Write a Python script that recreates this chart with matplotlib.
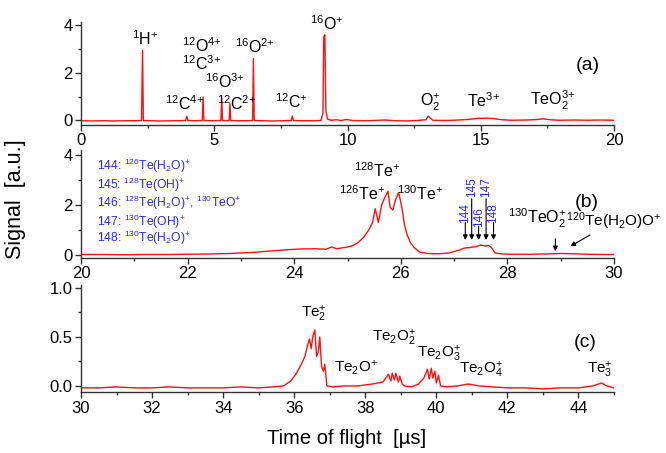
import matplotlib
matplotlib.use('Agg')
import matplotlib.pyplot as plt
from matplotlib.ticker import MultipleLocator, FormatStrFormatter

plt.rcParams['font.family'] = ['Liberation Sans', 'DejaVu Sans']
plt.rcParams['mathtext.fontset'] = 'custom'
plt.rcParams['mathtext.rm'] = 'Liberation Sans'
plt.rcParams['mathtext.it'] = 'Liberation Sans:italic'
plt.rcParams['mathtext.bf'] = 'Liberation Sans:bold'

# spectrum (a): 0-20 us, (time, signal)
spec_a = [(0.0, -0.02), (0.4, -0.03), (0.8, -0.02), (1.2, -0.03), (1.6, -0.02), (2.0, -0.02),
          (2.27, -0.01), (2.31, 2.95), (2.34, -0.01), (2.6, -0.02), (3.0, -0.03), (3.5, -0.02),
          (3.93, -0.01), (3.97, 0.17), (4.01, -0.01), (4.3, -0.02), (4.55, -0.01), (4.58, 0.98),
          (4.61, -0.01), (4.9, -0.02), (5.25, -0.01), (5.28, 0.98), (5.31, -0.01), (5.45, -0.02),
          (5.56, -0.01), (5.59, 0.7), (5.62, -0.01), (5.9, -0.02), (6.2, -0.02), (6.44, -0.01),
          (6.47, 2.6), (6.5, -0.01), (6.8, -0.02), (7.2, -0.03), (7.6, -0.02), (7.89, -0.01),
          (7.93, 0.18), (7.97, -0.01), (8.3, -0.02), (8.7, -0.02), (9.0, -0.01), (9.08, 0.3),
          (9.11, 3.5), (9.15, 3.6), (9.19, 0.4), (9.25, 0.05), (9.4, 0.0), (9.6, 0.02),
          (9.75, -0.01), (9.95, 0.03), (10.2, -0.01), (10.6, -0.02), (11.0, -0.01), (11.4, 0.01),
          (11.8, -0.02), (12.2, -0.03), (12.6, -0.01), (12.95, 0.02), (13.03, 0.18), (13.1, 0.1),
          (13.2, 0.0), (13.6, -0.01), (14.0, 0.0), (14.5, 0.03), (14.9, 0.08), (15.2, 0.09),
          (15.5, 0.07), (15.8, 0.02), (16.2, 0.0), (16.7, 0.01), (17.1, 0.03), (17.35, 0.06),
          (17.6, 0.02), (18.0, 0.0), (18.5, 0.01), (19.0, 0.0), (19.5, 0.01), (20.0, 0.0)]

# spectrum (b): 20-30 us
spec_b = [(20.0, 0.02), (20.4, 0.02), (20.8, 0.01), (21.2, 0.02), (21.6, 0.02), (22.0, 0.03),
          (22.4, 0.04), (22.8, 0.06), (23.2, 0.1), (23.5, 0.15), (23.8, 0.2), (24.1, 0.24),
          (24.4, 0.25), (24.6, 0.23), (24.7, 0.32), (24.8, 0.25), (25.0, 0.32), (25.1, 0.38),
          (25.2, 0.5), (25.3, 0.7), (25.4, 1.0), (25.47, 1.3), (25.52, 1.85), (25.58, 1.3),
          (25.64, 2.0), (25.7, 2.3), (25.76, 2.55), (25.8, 1.9), (25.85, 1.8), (25.9, 2.2),
          (25.96, 2.5), (26.02, 1.9), (26.07, 1.2), (26.12, 0.8), (26.18, 0.5), (26.25, 0.3),
          (26.35, 0.12), (26.5, 0.06), (26.7, 0.05), (26.9, 0.08), (27.1, 0.2), (27.2, 0.28),
          (27.3, 0.3), (27.4, 0.33), (27.5, 0.4), (27.58, 0.36), (27.65, 0.38), (27.7, 0.3),
          (27.77, 0.08), (27.9, 0.04), (28.1, 0.03), (28.4, 0.03), (28.7, 0.04), (29.0, 0.06),
          (29.2, 0.05), (29.5, 0.03), (29.8, 0.02), (30.0, 0.02)]

# spectrum (c): 30-45 us
spec_c = [(30.0, -0.02), (30.5, -0.02), (31.0, -0.01), (31.5, -0.02), (32.0, -0.02), (32.5, -0.01),
          (33.0, -0.02), (33.5, -0.02), (34.0, -0.02), (34.5, -0.01), (35.0, -0.02), (35.4, -0.01),
          (35.7, 0.0), (35.9, 0.05), (36.05, 0.12), (36.2, 0.22), (36.3, 0.3), (36.38, 0.42),
          (36.43, 0.48), (36.48, 0.38), (36.52, 0.5), (36.58, 0.57), (36.63, 0.3), (36.68, 0.35),
          (36.72, 0.5), (36.77, 0.2), (36.82, 0.15), (36.86, 0.22), (36.92, 0.0), (37.1, -0.01),
          (37.4, 0.0), (37.8, 0.0), (38.2, 0.02), (38.5, 0.04), (38.65, 0.12), (38.72, 0.05),
          (38.76, 0.13), (38.82, 0.06), (38.86, 0.13), (38.93, 0.04), (38.97, 0.1), (39.04, 0.02),
          (39.1, 0.0), (39.3, -0.01), (39.5, 0.02), (39.65, 0.08), (39.75, 0.17), (39.8, 0.07),
          (39.86, 0.18), (39.9, 0.08), (39.96, 0.15), (40.0, 0.03), (40.06, 0.11), (40.12, 0.0),
          (40.3, -0.01), (40.6, 0.0), (40.9, 0.02), (41.2, 0.0), (41.6, -0.01), (42.0, -0.02),
          (42.5, -0.02), (43.0, -0.03), (43.5, -0.02), (44.0, -0.02), (44.4, 0.0), (44.65, 0.03),
          (44.8, 0.0), (45.0, -0.02)]

# ion labels: (text, x, y)
labels_a = [(r'$^{1}$H$^{+}$', 2.4, 3.44), (r'$^{12}$O$^{4{+}}$', 4.53, 3.16),
            (r'$^{12}$C$^{3{+}}$', 4.53, 2.39), (r'$^{16}$O$^{3{+}}$', 5.4, 1.61),
            (r'$^{12}$C$^{4{+}}$', 3.9, 0.7), (r'$^{12}$C$^{2{+}}$', 5.84, 0.7),
            (r'$^{16}$O$^{2{+}}$', 6.53, 3.09), (r'$^{12}$C$^{+}$', 7.9, 0.77),
            (r'$^{16}$O$^{+}$', 9.22, 4.07), (r'O$_2^{+}$', 13.1, 0.75),
            (r'Te$^{3{+}}$', 15.1, 0.84), (r'TeO$_2^{3{+}}$', 17.7, 0.84)]
labels_b = [(r'$^{128}$Te$^{+}$', 25.56, 3.36), (r'$^{126}$Te$^{+}$', 25.28, 2.45),
            (r'$^{130}$Te$^{+}$', 26.36, 2.45), (r'$^{130}$TeO$_2^{+}$', 28.56, 1.48)]
labels_c = [(r'Te$_2^{+}$', 36.55, 0.73), (r'Te$_2$O$^{+}$', 37.75, 0.18),
            (r'Te$_2$O$_2^{+}$', 38.8, 0.49), (r'Te$_2$O$_3^{+}$', 40.07, 0.33),
            (r'Te$_2$O$_4^{+}$', 41.26, 0.16), (r'Te$_3^{+}$', 44.6, 0.16)]

legend_b = [r'144: $^{126}$Te(H$_2$O)$^{+}$', r'145: $^{128}$Te(OH)$^{+}$',
            r'146: $^{128}$Te(H$_2$O)$^{+}$, $^{130}$TeO$^{+}$', r'147: $^{130}$Te(OH)$^{+}$',
            r'148: $^{130}$Te(H$_2$O)$^{+}$']
legend_y = [3.56, 2.82, 2.08, 1.34, 0.67]

# mass markers: (label, x, label y, arrow start y)
markers_b = [('144', 27.21, 1.67, 1.3), ('145', 27.33, 2.73, 2.25),
             ('146', 27.46, 1.5, 1.15), ('147', 27.6, 2.73, 2.25), ('148', 27.74, 1.67, 1.3)]

red = '#ff1010'
blue = '#2a2ae0'
arrow = dict(arrowstyle='-|>', color='black', lw=0.8, mutation_scale=7, shrinkA=0, shrinkB=0)

fig = plt.figure(figsize=(6.66, 4.53), dpi=100)
L, W = 81 / 666, 533 / 666
ax_a = fig.add_axes([L, 1 - 125 / 453, W, 103.3 / 453])
ax_b = fig.add_axes([L, 1 - 258 / 453, W, 108 / 453])
ax_c = fig.add_axes([L, 1 - 392.3 / 453, W, 107.3 / 453])

setup = [(ax_a, spec_a, (0, 20), (-0.2, 4.15), 5, 2.5, 2, 1, '%d'),
         (ax_b, spec_b, (20, 30), (-0.12, 4.2), 2, 1, 2, 1, '%d'),
         (ax_c, spec_c, (30, 45), (-0.065, 1.03), 2, 1, 0.5, 0.25, '%.1f')]

for ax, spec, xl, yl, xmaj, xmin, ymaj, ymin, fmt in setup:
    t = [p[0] for p in spec]
    s = [p[1] for p in spec]
    ax.plot(t, s, color=red, lw=1.0)
    ax.set_xlim(*xl)
    ax.set_ylim(*yl)
    ax.spines['top'].set_visible(False)
    ax.spines['right'].set_visible(False)
    for sp in ('left', 'bottom'):
        ax.spines[sp].set_color('#333333')
        ax.spines[sp].set_linewidth(1.0)
    ax.xaxis.set_major_locator(MultipleLocator(xmaj))
    ax.xaxis.set_minor_locator(MultipleLocator(xmin))
    ax.yaxis.set_major_locator(MultipleLocator(ymaj))
    ax.yaxis.set_minor_locator(MultipleLocator(ymin))
    ax.yaxis.set_major_formatter(FormatStrFormatter(fmt))
    ax.tick_params(which='major', direction='out', length=4, width=1, labelsize=12,
                   color='#333333', pad=2)
    ax.tick_params(which='minor', direction='out', length=2.5, width=1, color='#333333')
    ax.patch.set_alpha(0)

for txt, x, y in labels_a:
    ax_a.text(x, y, txt, fontsize=11.5, ha='center', va='center')
for txt, x, y in labels_b:
    ax_b.text(x, y, txt, fontsize=11.5, ha='center', va='center')
for txt, x, y in labels_c:
    ax_c.text(x, y, txt, fontsize=11, ha='center', va='center')

ax_b.text(29.1, 1.35, r'$^{120}$Te(H$_2$O)O$^{+}$', fontsize=11, ha='left', va='center',
          clip_on=False)

for txt, y in zip(legend_b, legend_y):
    ax_b.text(20.3, y, txt, fontsize=8.7, color=blue, ha='left', va='center')

for lab, x, ylab, ystart in markers_b:
    ax_b.text(x, ylab, lab, fontsize=8.5, color=blue, rotation=90, ha='center', va='center')
    ax_b.annotate('', xy=(x, 0.6), xytext=(x, ystart), arrowprops=arrow)
ax_b.annotate('', xy=(28.9, 0.15), xytext=(28.9, 0.65), arrowprops=arrow)
ax_b.annotate('', xy=(29.18, 0.35), xytext=(29.55, 0.8), arrowprops=arrow)

ax_a.text(19.0, 2.3, '(a)', fontsize=14, ha='center', va='center')
ax_b.text(29.48, 2.1, '(b)', fontsize=14, ha='center', va='center')
ax_c.text(44.2, 0.44, '(c)', fontsize=14, ha='center', va='center')

fig.text(0.024, 0.56, 'Signal  [a.u.]', rotation=90, fontsize=15.5, ha='center', va='center')
fig.text(347 / 666, 0.033, 'Time of flight  [µs]', fontsize=14.5, ha='center', va='center')

fig.savefig('out.png', dpi=100)
